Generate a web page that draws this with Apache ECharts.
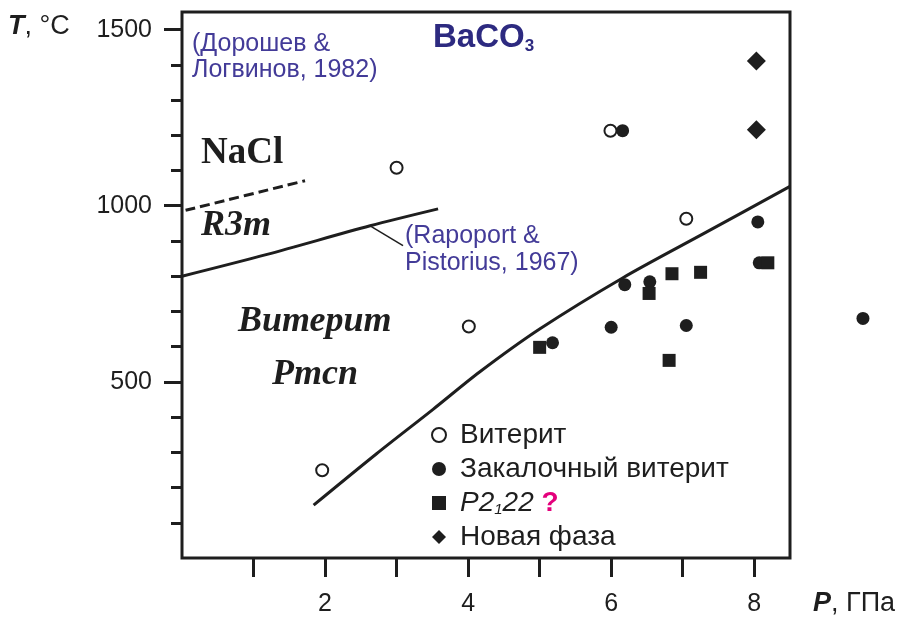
<!DOCTYPE html>
<html><head><meta charset="utf-8">
<script src="https://cdn.jsdelivr.net/npm/echarts@6.0.0/dist/echarts.min.js"></script>
<style>html,body{margin:0;padding:0;background:#fff}#c{width:902px;height:617px}</style>
</head><body><div id="c"></div>
<script>
// Tick values
const xTicks = [1, 2, 3, 4, 5, 6, 7, 8];
const xLabels = [2, 4, 6, 8];
const yLabels = [500, 1000, 1500];
const yMinorTicks = [100, 200, 300, 400, 600, 700, 800, 900, 1100, 1200, 1300, 1400];

// Series names
const seriesNames = ['Витерит', 'Закалочный витерит', 'P2₁22', 'Новая фаза'];

// Data points [P (GPa), T (°C)]
const witherite = [[1.96, 249], [3.0, 1108], [4.01, 657], [5.99, 1213], [7.05, 963]];
const quenched = [[6.16, 1213], [5.18, 611], [6.0, 655], [6.19, 776], [6.54, 784], [7.05, 660], [8.05, 954], [8.07, 838], [9.52, 680]];
const p21 = [[5.0, 598], [6.53, 751], [6.85, 807], [7.25, 811], [6.81, 561], [8.19, 838]];
const newPhase = [[8.03, 1411], [8.03, 1216]];

// Phase boundaries
const naclBoundary = [[0.05, 987], [1.72, 1071]];
const r3mBoundary = [[0, 800], [1.19, 862], [2.63, 943], [3.58, 991]];
const leaderLine = [[2.63, 943], [3.09, 887]];
const pmcnBoundary = [[1.84, 150], [2.72, 296], [3.51, 422], [4.16, 528], [5.0, 650], [6.16, 795], [7.33, 925], [8.5, 1055]];

const SANS = '"Liberation Sans", Arial, sans-serif';
const SERIF = '"Liberation Serif", "Times New Roman", serif';
const INK = '#1e1e1e';
const BLUE = '#433b98';

const chart = echarts.init(document.getElementById('c'), null, {renderer: 'canvas'});

function lineSeries(data, width, type) {
  return {
    type: 'line', data: data, symbol: 'none', smooth: 0.3, silent: true,
    lineStyle: {color: INK, width: width, type: type || 'solid', cap: 'butt'},
    z: 2, clip: false
  };
}

const option = {
  backgroundColor: '#fff',
  animation: false,
  grid: {left: 182, top: 12, width: 608, height: 547, show: true, borderColor: INK, borderWidth: 3, backgroundColor: 'transparent', containLabel: false},
  xAxis: {
    type: 'value', min: 0, max: 8.5, interval: 1,
    axisLine: {show: false},
    splitLine: {show: false},
    axisTick: {show: true, customValues: xTicks, length: 19, lineStyle: {color: INK, width: 3}},
    axisLabel: {customValues: xLabels, margin: 34, fontSize: 25, fontFamily: SANS, color: INK,
      formatter: function (v) { return String(v); }}
  },
  yAxis: [{
    type: 'value', min: 0, max: 1550, interval: 500,
    axisLine: {show: false},
    splitLine: {show: false},
    axisTick: {show: true, customValues: yLabels, length: 18, lineStyle: {color: INK, width: 3}},
    axisLabel: {customValues: yLabels, margin: 30, fontSize: 25, fontFamily: SANS, color: INK,
      formatter: function (v) { return String(v); }}
  }, {
    type: 'value', min: 0, max: 1550, position: 'left',
    axisLine: {show: false},
    splitLine: {show: false},
    axisTick: {show: true, customValues: yMinorTicks, length: 11, lineStyle: {color: INK, width: 3}},
    axisLabel: {show: false}
  }],
  legend: {
    orient: 'vertical', left: 431, top: 421, padding: 0, itemWidth: 14, itemHeight: 14, itemGap: 6,
    selectedMode: false,
    data: seriesNames,
    textStyle: {fontSize: 28, fontFamily: SANS, color: INK, padding: [0, 0, 0, 9],
      rich: {
        it: {fontSize: 28, fontFamily: SANS, fontStyle: 'italic', color: INK},
        sub: {fontSize: 15, fontFamily: SANS, fontStyle: 'italic', color: INK, verticalAlign: 'bottom', lineHeight: 15},
        q: {fontSize: 28, fontFamily: SANS, fontWeight: 'bold', color: '#e4007c'}
      }
    },
    formatter: function (name) {
      if (name === 'P2₁22') return '{it|P2}{sub|1}{it|22} {q|?}';
      return name;
    }
  },
  series: [
    lineSeries(naclBoundary, 3, [10, 5]),
    lineSeries(r3mBoundary, 3),
    lineSeries(leaderLine, 1.5),
    lineSeries(pmcnBoundary, 3),
    {name: seriesNames[0], type: 'scatter', data: witherite, symbol: 'circle', symbolSize: 12, clip: false, z: 4,
      itemStyle: {color: '#fff', borderColor: INK, borderWidth: 2, opacity: 1}},
    {name: seriesNames[1], type: 'scatter', data: quenched, symbol: 'circle', symbolSize: 13, clip: false, z: 3,
      itemStyle: {color: INK, opacity: 1}},
    {name: seriesNames[2], type: 'scatter', data: p21, symbol: 'rect', symbolSize: 13, clip: false, z: 3,
      itemStyle: {color: INK, opacity: 1}},
    {name: seriesNames[3], type: 'scatter', data: newPhase, symbol: 'diamond', symbolSize: [19, 19], clip: false, z: 3,
      itemStyle: {color: INK, opacity: 1}}
  ],
  graphic: [
    {type: 'text', x: 8, y: 27, style: {text: '{b|T}{n|, °C}', verticalAlign: 'middle', align: 'left',
      rich: {b: {fontSize: 27, fontFamily: SANS, fontWeight: 'bold', fontStyle: 'italic', fill: INK},
             n: {fontSize: 27, fontFamily: SANS, fill: INK}}}},
    {type: 'text', x: 813, y: 604, style: {text: '{b|P}{n|, ГПа}', verticalAlign: 'middle', align: 'left',
      rich: {b: {fontSize: 27, fontFamily: SANS, fontWeight: 'bold', fontStyle: 'italic', fill: INK},
             n: {fontSize: 27, fontFamily: SANS, fill: INK}}}},
    {type: 'text', x: 192, y: 31, style: {text: '(Дорошев &\nЛогвинов, 1982)', fontSize: 25, fontFamily: SANS, fill: BLUE, lineHeight: 26, verticalAlign: 'top'}},
    {type: 'text', x: 433, y: 38, style: {text: '{m|BaCO}{s|3}', verticalAlign: 'middle',
      rich: {m: {fontSize: 33, fontFamily: SANS, fontWeight: 'bold', fill: '#2d2a80'},
             s: {fontSize: 17, fontFamily: SANS, fontWeight: 'bold', fill: '#2d2a80', verticalAlign: 'bottom', lineHeight: 15}}}},
    {type: 'text', x: 201, y: 153, style: {text: 'NaCl', fontSize: 37, fontFamily: SERIF, fontWeight: 'bold', fill: INK, verticalAlign: 'middle'}},
    {type: 'text', x: 201, y: 226, style: {text: 'R3m', fontSize: 36, fontFamily: SERIF, fontWeight: 'bold', fontStyle: 'italic', fill: INK, verticalAlign: 'middle'}},
    {type: 'text', x: 405, y: 223, style: {text: '(Rapoport &\nPistorius, 1967)', fontSize: 25, fontFamily: SANS, fill: BLUE, lineHeight: 27, verticalAlign: 'top'}},
    {type: 'text', x: 238, y: 322, style: {text: 'Витерит', fontSize: 36, fontFamily: SERIF, fontWeight: 'bold', fontStyle: 'italic', fill: INK, verticalAlign: 'middle'}},
    {type: 'text', x: 272, y: 375, style: {text: 'Pmcn', fontSize: 36, fontFamily: SERIF, fontWeight: 'bold', fontStyle: 'italic', fill: INK, verticalAlign: 'middle'}}
  ]
};
chart.setOption(option);
</script>
</body></html>
